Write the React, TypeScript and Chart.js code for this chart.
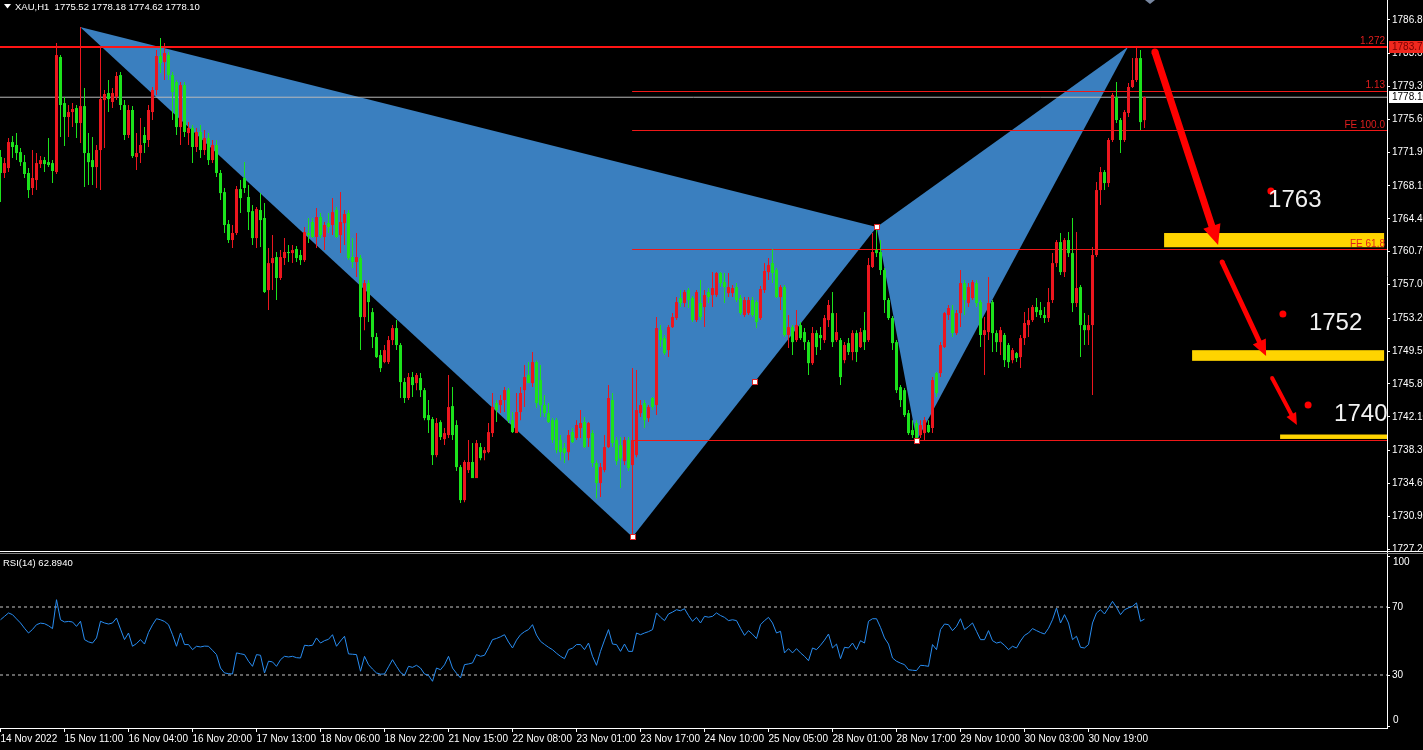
import React, { useEffect, useRef } from 'react';
import { Chart, registerables } from 'chart.js';

Chart.register(...registerables);

// ---------------- data ----------------
const timeLabels = ['14 Nov 2022', '15 Nov 11:00', '16 Nov 04:00', '16 Nov 20:00', '17 Nov 13:00', '18 Nov 06:00', '18 Nov 22:00', '21 Nov 15:00', '22 Nov 08:00', '23 Nov 01:00', '23 Nov 17:00', '24 Nov 10:00', '25 Nov 05:00', '28 Nov 01:00', '28 Nov 17:00', '29 Nov 10:00', '30 Nov 03:00', '30 Nov 19:00'];
const timeTickBars = [0, 16, 32, 48, 64, 80, 96, 112, 128, 144, 160, 176, 192, 208, 224, 240, 256, 272];
const priceTicks = [1786.8, 1783.0, 1779.3, 1775.6, 1771.9, 1768.1, 1764.4, 1760.7, 1757.0, 1753.2, 1749.5, 1745.8, 1742.1, 1738.3, 1734.6, 1730.9, 1727.2];
const rsiTicks = [0, 30, 70, 100];
const rsiLevels = [70, 30];

const openP = [
  1771.36, 1769.56, 1770.12, 1773.05, 1772.72, 1771.92, 1770.79, 1769.56, 1767.87, 1768.77,
  1770.57, 1771.02, 1770.79, 1770.68, 1769.67, 1782.63, 1777.44, 1775.87, 1776.43, 1776.88,
  1775.19, 1777.10, 1771.81, 1771.02, 1770.23, 1772.15, 1777.78, 1778.57, 1777.56, 1778.12,
  1780.60, 1777.22, 1773.84, 1776.66, 1771.36, 1771.81, 1773.84, 1773.28, 1776.43, 1778.91,
  1782.74, 1782.06, 1782.86, 1780.60, 1779.81, 1774.74, 1779.47, 1774.06, 1774.63, 1772.49,
  1774.18, 1772.15, 1773.50, 1771.02, 1772.72, 1769.56, 1767.41, 1763.81, 1762.01, 1762.80,
  1767.75, 1769.00, 1766.86, 1765.27, 1762.23, 1765.39, 1764.49, 1756.37, 1759.41, 1760.09,
  1757.73, 1759.98, 1760.66, 1760.54, 1761.00, 1760.32, 1759.75, 1762.80, 1764.04, 1762.35,
  1764.60, 1762.35, 1763.92, 1763.70, 1765.39, 1762.57, 1763.92, 1765.05, 1760.09, 1759.53,
  1759.98, 1753.33, 1757.16, 1753.89, 1751.08, 1749.05, 1748.26, 1748.26, 1750.74, 1752.09,
  1750.18, 1746.01, 1744.21, 1746.57, 1745.89, 1746.46, 1745.10, 1742.29, 1741.84, 1737.78,
  1741.50, 1739.58, 1740.04, 1743.30, 1741.17, 1736.43, 1732.71, 1736.09, 1737.00, 1735.19,
  1738.68, 1738.00, 1738.12, 1740.26, 1743.64, 1743.42, 1743.98, 1745.10, 1741.72, 1740.26,
  1742.63, 1745.10, 1746.80, 1745.89, 1748.26, 1746.23, 1743.42, 1742.51, 1741.72, 1741.72,
  1739.47, 1738.57, 1738.12, 1740.37, 1739.70, 1740.83, 1741.50, 1739.70, 1740.26, 1736.88,
  1734.63, 1736.09, 1738.68, 1743.98, 1739.47, 1738.90, 1737.10, 1739.47, 1736.66, 1737.78,
  1742.51, 1743.64, 1741.95, 1744.21, 1743.42, 1751.86, 1750.96, 1749.61, 1752.20, 1753.22,
  1755.47, 1754.91, 1756.37, 1755.47, 1752.99, 1754.91, 1754.46, 1756.15, 1755.81, 1755.81,
  1758.29, 1757.27, 1756.03, 1756.03, 1756.71, 1755.47, 1753.56, 1753.78, 1755.25, 1755.02,
  1753.22, 1756.37, 1758.40, 1759.41, 1758.63, 1755.58, 1756.71, 1751.31, 1752.20, 1750.74,
  1752.43, 1751.64, 1750.51, 1748.14, 1751.53, 1751.31, 1750.74, 1752.99, 1753.78, 1750.74,
  1750.74, 1748.48, 1750.40, 1749.39, 1751.53, 1749.95, 1751.86, 1750.74, 1758.97, 1760.88,
  1760.66, 1758.63, 1755.25, 1753.22, 1750.51, 1745.44, 1745.10, 1742.51, 1740.60, 1741.39,
  1740.04, 1740.26, 1741.17, 1740.83, 1747.02, 1747.02, 1749.95, 1753.56, 1754.12, 1751.53,
  1753.78, 1757.16, 1754.91, 1755.47, 1757.16, 1755.02, 1751.31, 1751.64, 1755.02, 1751.53,
  1750.51, 1751.31, 1750.18, 1748.48, 1749.27, 1748.82, 1750.96, 1752.43, 1752.99, 1754.46,
  1754.12, 1753.56, 1753.22, 1755.25, 1759.41, 1761.78, 1758.40, 1762.01, 1760.54, 1754.91,
  1756.71, 1752.43, 1751.86, 1752.43, 1760.32, 1767.64, 1769.67, 1768.43, 1773.28, 1778.12,
  1775.53, 1773.28, 1776.32, 1779.25, 1780.04, 1782.51, 1775.52,
];
const highP = [
  1772.15, 1771.25, 1773.50, 1773.72, 1774.06, 1772.38, 1771.59, 1770.12, 1772.15, 1771.81,
  1771.47, 1771.36, 1773.50, 1771.02, 1784.20, 1782.86, 1778.12, 1777.22, 1777.44, 1777.22,
  1786.01, 1779.13, 1774.06, 1773.62, 1772.72, 1783.87, 1778.91, 1780.04, 1779.13, 1780.94,
  1780.94, 1777.78, 1777.22, 1777.10, 1774.06, 1775.75, 1774.74, 1777.22, 1779.25, 1783.42,
  1784.77, 1784.20, 1783.19, 1780.94, 1780.04, 1779.81, 1779.81, 1775.30, 1774.97, 1774.63,
  1774.97, 1774.40, 1774.06, 1773.28, 1773.28, 1769.90, 1767.87, 1764.26, 1763.70, 1768.09,
  1768.77, 1770.79, 1768.21, 1765.95, 1765.73, 1767.30, 1766.18, 1761.11, 1762.57, 1760.66,
  1760.88, 1762.23, 1761.45, 1761.45, 1761.34, 1760.88, 1763.47, 1764.49, 1764.49, 1765.61,
  1765.05, 1764.04, 1765.05, 1766.74, 1765.73, 1767.41, 1765.39, 1765.39, 1762.23, 1762.80,
  1760.32, 1757.50, 1757.50, 1754.35, 1751.53, 1749.61, 1750.18, 1751.19, 1752.43, 1752.99,
  1750.40, 1746.46, 1747.02, 1747.13, 1747.02, 1747.02, 1745.33, 1743.98, 1742.07, 1741.95,
  1741.72, 1740.83, 1746.80, 1745.44, 1741.72, 1736.66, 1737.21, 1739.47, 1739.13, 1739.47,
  1739.13, 1738.68, 1741.39, 1744.77, 1743.98, 1744.55, 1745.44, 1745.33, 1742.63, 1744.77,
  1745.44, 1747.93, 1748.26, 1749.39, 1748.48, 1747.93, 1744.55, 1743.64, 1741.95, 1741.95,
  1740.04, 1739.13, 1740.60, 1740.83, 1741.72, 1742.85, 1742.07, 1741.50, 1740.60, 1737.21,
  1736.88, 1740.04, 1745.67, 1744.77, 1739.81, 1739.81, 1739.81, 1739.81, 1747.58, 1747.36,
  1743.98, 1743.98, 1743.42, 1744.32, 1753.33, 1752.43, 1751.31, 1752.43, 1753.78, 1755.58,
  1756.37, 1756.37, 1756.60, 1755.70, 1756.37, 1757.50, 1756.37, 1756.60, 1758.40, 1758.40,
  1758.40, 1758.29, 1758.29, 1756.94, 1757.16, 1755.81, 1755.58, 1755.58, 1755.58, 1755.25,
  1756.83, 1759.41, 1759.98, 1761.00, 1758.86, 1756.94, 1756.94, 1753.56, 1752.43, 1754.12,
  1752.77, 1752.09, 1750.74, 1752.20, 1751.86, 1752.20, 1753.56, 1755.25, 1756.15, 1753.78,
  1750.96, 1750.51, 1750.96, 1751.86, 1751.86, 1752.09, 1753.89, 1759.98, 1762.80, 1763.47,
  1762.01, 1758.86, 1755.47, 1753.44, 1750.74, 1745.67, 1745.33, 1742.85, 1741.72, 1741.72,
  1741.72, 1742.07, 1741.72, 1746.57, 1747.13, 1750.51, 1753.89, 1754.69, 1754.69, 1754.12,
  1758.63, 1757.50, 1757.16, 1757.50, 1757.50, 1755.25, 1753.33, 1757.84, 1755.25, 1751.86,
  1752.20, 1751.53, 1750.40, 1749.84, 1749.39, 1751.31, 1753.89, 1754.35, 1754.69, 1755.47,
  1755.02, 1754.46, 1756.60, 1760.54, 1762.01, 1762.80, 1762.23, 1762.91, 1764.49, 1762.91,
  1756.94, 1753.78, 1753.56, 1761.22, 1768.54, 1770.23, 1769.90, 1773.50, 1778.57, 1779.81,
  1775.75, 1776.66, 1779.70, 1782.51, 1783.64, 1783.42, 1778.18,
];
const lowP = [
  1766.29, 1769.00, 1769.67, 1771.25, 1771.02, 1770.34, 1769.00, 1766.74, 1767.08, 1767.64,
  1770.12, 1769.67, 1770.23, 1768.43, 1769.45, 1773.62, 1772.60, 1773.62, 1774.74, 1773.50,
  1772.94, 1767.98, 1768.21, 1768.21, 1767.87, 1767.64, 1772.38, 1776.43, 1776.88, 1777.78,
  1776.66, 1773.28, 1773.50, 1771.25, 1769.90, 1770.68, 1771.81, 1772.49, 1775.53, 1778.35,
  1780.82, 1780.04, 1780.04, 1775.53, 1773.84, 1772.72, 1773.62, 1772.72, 1770.68, 1771.92,
  1771.25, 1771.59, 1770.46, 1770.68, 1769.11, 1766.52, 1762.80, 1761.67, 1761.11, 1762.57,
  1765.05, 1767.30, 1763.14, 1761.45, 1761.11, 1761.22, 1756.03, 1754.12, 1756.37, 1755.25,
  1757.50, 1759.19, 1759.53, 1759.41, 1759.53, 1759.19, 1759.53, 1761.67, 1762.23, 1761.11,
  1762.23, 1760.88, 1762.80, 1762.57, 1762.23, 1760.54, 1761.45, 1759.75, 1758.86, 1757.84,
  1749.61, 1751.86, 1752.77, 1749.84, 1748.71, 1747.13, 1748.14, 1748.03, 1750.18, 1749.61,
  1744.21, 1743.64, 1743.98, 1744.32, 1745.10, 1744.32, 1741.72, 1740.26, 1736.66, 1737.55,
  1739.47, 1738.91, 1739.70, 1739.47, 1735.98, 1732.37, 1732.48, 1735.75, 1735.19, 1735.19,
  1737.21, 1737.21, 1738.00, 1739.81, 1741.50, 1742.51, 1742.63, 1741.39, 1740.26, 1740.26,
  1741.72, 1743.19, 1745.89, 1745.44, 1743.08, 1742.07, 1742.07, 1741.39, 1739.13, 1738.00,
  1737.21, 1736.88, 1737.21, 1739.13, 1739.47, 1739.70, 1738.57, 1738.68, 1736.43, 1732.93,
  1733.05, 1735.86, 1738.57, 1738.68, 1736.66, 1734.07, 1736.66, 1735.98, 1728.54, 1737.55,
  1742.07, 1740.83, 1741.50, 1742.85, 1742.29, 1749.95, 1749.05, 1748.82, 1752.09, 1752.99,
  1754.46, 1754.46, 1754.35, 1752.77, 1752.77, 1752.99, 1752.20, 1754.91, 1754.46, 1755.58,
  1756.71, 1754.91, 1755.58, 1755.58, 1755.02, 1753.56, 1753.33, 1753.56, 1753.33, 1752.09,
  1752.99, 1756.03, 1757.50, 1757.16, 1755.47, 1754.12, 1751.08, 1749.84, 1749.05, 1750.51,
  1750.74, 1749.61, 1746.80, 1747.93, 1749.05, 1749.61, 1750.40, 1752.20, 1749.95, 1750.51,
  1745.67, 1748.14, 1749.05, 1748.48, 1748.26, 1749.84, 1749.61, 1750.51, 1758.86, 1760.09,
  1758.07, 1753.78, 1752.99, 1749.61, 1744.77, 1743.19, 1742.07, 1740.04, 1739.70, 1739.36,
  1739.70, 1739.47, 1740.26, 1740.26, 1744.32, 1746.57, 1749.84, 1752.99, 1751.08, 1751.31,
  1752.20, 1753.56, 1754.46, 1755.25, 1754.46, 1749.95, 1746.80, 1750.74, 1749.39, 1749.39,
  1749.05, 1747.70, 1747.58, 1748.14, 1748.26, 1747.58, 1750.18, 1751.08, 1752.77, 1753.33,
  1753.22, 1752.66, 1752.77, 1754.91, 1758.97, 1758.07, 1757.84, 1760.09, 1753.89, 1754.46,
  1748.82, 1750.18, 1750.18, 1744.55, 1760.09, 1765.95, 1767.64, 1767.98, 1773.05, 1775.19,
  1771.81, 1773.05, 1775.87, 1779.13, 1779.81, 1774.40, 1774.62,
];
const closeP = [
  1769.56, 1770.68, 1773.05, 1772.49, 1771.81, 1770.79, 1769.45, 1767.64, 1769.00, 1770.68,
  1771.02, 1770.57, 1770.46, 1769.79, 1782.85, 1777.22, 1775.87, 1776.43, 1776.77, 1775.19,
  1777.10, 1771.81, 1770.79, 1770.23, 1772.15, 1777.89, 1778.46, 1777.89, 1778.57, 1780.49,
  1777.22, 1773.84, 1776.66, 1771.47, 1771.81, 1772.72, 1772.94, 1776.66, 1778.91, 1782.74,
  1781.95, 1783.08, 1780.60, 1778.68, 1774.74, 1779.47, 1774.18, 1774.63, 1772.49, 1774.18,
  1772.15, 1773.50, 1771.02, 1772.72, 1769.56, 1767.30, 1763.70, 1762.01, 1762.80, 1767.75,
  1766.74, 1767.87, 1765.16, 1762.23, 1765.50, 1764.26, 1756.15, 1759.41, 1759.98, 1757.73,
  1760.09, 1760.66, 1760.54, 1760.88, 1759.98, 1759.75, 1762.91, 1762.57, 1762.35, 1764.60,
  1762.57, 1763.70, 1763.47, 1765.16, 1762.35, 1764.04, 1764.94, 1759.98, 1759.53, 1760.09,
  1753.33, 1757.16, 1755.02, 1751.08, 1748.82, 1747.58, 1749.61, 1750.74, 1752.09, 1750.18,
  1746.01, 1744.21, 1746.57, 1745.67, 1746.80, 1745.10, 1741.95, 1741.72, 1737.78, 1741.39,
  1739.81, 1740.26, 1743.19, 1740.04, 1736.43, 1732.71, 1737.00, 1737.00, 1735.19, 1739.13,
  1737.44, 1738.34, 1740.37, 1743.19, 1742.85, 1743.98, 1745.10, 1741.72, 1740.37, 1742.63,
  1744.77, 1746.57, 1745.89, 1748.26, 1743.64, 1743.42, 1742.51, 1741.50, 1739.47, 1738.34,
  1738.12, 1738.00, 1740.04, 1739.24, 1741.17, 1741.39, 1738.68, 1741.39, 1736.88, 1734.63,
  1736.43, 1738.68, 1744.21, 1739.13, 1737.10, 1737.40, 1739.47, 1736.32, 1739.47, 1742.85,
  1743.42, 1741.72, 1743.19, 1743.19, 1752.09, 1750.74, 1749.27, 1752.20, 1753.33, 1755.02,
  1754.91, 1756.15, 1755.25, 1752.99, 1756.15, 1753.33, 1755.81, 1755.58, 1756.60, 1758.29,
  1757.16, 1756.71, 1756.71, 1756.60, 1755.25, 1753.78, 1755.25, 1755.25, 1753.56, 1752.77,
  1756.49, 1758.52, 1759.19, 1758.29, 1755.58, 1756.71, 1751.31, 1752.20, 1750.51, 1752.43,
  1750.96, 1750.51, 1748.14, 1751.53, 1749.95, 1750.96, 1753.22, 1754.69, 1750.51, 1751.64,
  1746.57, 1750.18, 1749.39, 1751.53, 1749.39, 1751.64, 1750.51, 1759.19, 1760.66, 1760.54,
  1758.63, 1755.25, 1753.22, 1750.40, 1745.10, 1743.98, 1742.29, 1740.26, 1740.04, 1739.70,
  1741.17, 1741.72, 1740.37, 1746.23, 1744.77, 1750.18, 1753.78, 1754.35, 1751.53, 1753.78,
  1757.16, 1755.25, 1756.71, 1757.27, 1754.91, 1751.31, 1751.86, 1754.91, 1751.53, 1750.51,
  1751.86, 1748.48, 1748.26, 1749.61, 1748.71, 1750.96, 1752.66, 1752.99, 1754.46, 1753.89,
  1753.56, 1753.22, 1755.02, 1759.41, 1761.78, 1758.40, 1762.01, 1760.54, 1754.91, 1756.60,
  1752.43, 1751.86, 1752.43, 1760.32, 1767.64, 1769.67, 1768.43, 1773.28, 1778.35, 1775.53,
  1773.28, 1776.43, 1779.25, 1780.04, 1782.51, 1775.30, 1778.10,
];
const rsi14 = [
  62.5, 64.5, 66.5, 65.5, 63.0, 60.6, 57.5, 54.7, 56.8, 59.6,
  60.5, 60.2, 59.0, 57.3, 74.3, 62.5, 61.2, 61.5, 61.2, 58.6,
  61.6, 50.8, 49.5, 48.8, 51.8, 61.6, 60.6, 60.0, 60.6, 63.5,
  57.0, 50.8, 54.7, 46.9, 48.5, 50.8, 48.2, 55.0, 59.5, 63.1,
  62.5, 61.5, 59.6, 53.7, 46.9, 54.7, 47.9, 47.9, 44.9, 46.9,
  46.5, 47.0, 46.9, 44.5, 42.0, 34.1, 31.2, 30.8, 30.6, 43.0,
  42.5, 42.0, 38.1, 35.1, 42.0, 41.6, 31.2, 38.1, 37.7, 35.1,
  39.0, 41.0, 40.6, 41.0, 40.2, 40.0, 47.5, 47.2, 47.5, 51.8,
  48.8, 50.2, 51.0, 53.7, 46.9, 50.0, 52.8, 42.4, 42.2, 42.0,
  32.2, 41.0, 36.1, 33.5, 31.2, 30.5, 30.6, 34.8, 39.0, 35.1,
  31.5, 29.8, 35.1, 34.5, 35.7, 34.1, 30.6, 29.8, 26.3, 34.1,
  33.1, 36.0, 41.0, 34.1, 31.0, 28.3, 36.1, 36.5, 37.1, 42.0,
  41.0, 41.6, 46.0, 50.8, 51.5, 52.5, 53.7, 49.4, 45.9, 50.5,
  53.7, 55.5, 56.7, 59.6, 53.5, 49.8, 48.0, 46.3, 44.9, 42.8,
  41.0, 39.6, 44.9, 45.8, 47.9, 47.9, 44.9, 48.8, 41.0, 35.7,
  43.9, 50.5, 56.7, 48.2, 47.9, 43.9, 48.2, 43.9, 43.9, 54.7,
  53.7, 54.7, 55.5, 56.7, 66.5, 64.0, 62.0, 65.9, 67.0, 68.4,
  67.8, 69.0, 65.0, 61.6, 63.9, 60.6, 64.5, 64.0, 64.5, 66.5,
  65.0, 63.9, 62.0, 62.5, 62.0, 57.5, 53.3, 56.1, 54.0, 51.4,
  59.6, 62.0, 63.9, 60.6, 54.7, 55.7, 43.0, 45.5, 43.0, 45.5,
  43.0, 41.0, 38.4, 45.9, 44.9, 47.5, 50.5, 54.1, 45.9, 48.2,
  39.6, 46.3, 45.9, 48.8, 44.9, 50.2, 48.8, 61.6, 63.1, 63.1,
  58.0, 51.8, 48.2, 40.0, 38.1, 37.0, 36.1, 33.1, 32.8, 32.6,
  35.7, 35.5, 35.1, 47.9, 44.9, 56.7, 60.0, 59.6, 56.1, 58.6,
  63.1, 56.7, 58.5, 60.6, 55.7, 50.8, 50.8, 56.1, 50.2, 48.8,
  49.4, 47.5, 44.9, 46.9, 45.9, 50.0, 53.3, 54.7, 57.3, 56.1,
  55.0, 54.1, 57.5, 62.5, 69.4, 60.6, 65.5, 60.6, 50.8, 52.8,
  46.3, 45.9, 47.9, 60.6, 66.5, 68.4, 65.9, 69.5, 73.3, 69.8,
  65.5, 68.4, 69.5, 70.4, 72.4, 61.6, 62.89,
];

// harmonic pattern X, A, B, C, D (bar index, price)
const patternBars = [19.9, 158, 219.05, 229.05, 281.9];
const patternPrices = [1786.01, 1728.55, 1763.48, 1739.4, 1783.79];

// fibo / projection levels
const levelLabels = ['1.272', '1.13', 'FE 100.0', 'FE 61.8', ''];
const levelPrices = [1783.76, 1778.745, 1774.35, 1760.943, 1739.425];
const levelFromBar = [-0.125, 157.9, 157.9, 157.9, 157.9];
const levelTag = '1783.79';
const bidPrice = 1778.1;
const bidTag = '1778.10';

// targets drawn on the right
const targetLabels = ['1763', '1752', '1740'];
const zoneFromBar = [290.9, 297.9, 319.9];
const zoneToBar = [345.9, 345.9, 346.7];
const zoneTop = [1762.8, 1749.6, 1740.1];
const zoneBottom = [1761.2, 1748.4, 1739.6];
const arrowFromBar = [288.6, 305.4, 317.9];
const arrowFromPrice = [1783.2, 1759.54, 1746.47];
const arrowToBar = [304.4, 316.4, 324.1];
const arrowToPrice = [1761.45, 1748.95, 1741.17];
const dotBar = [317.6, 320.6, 326.9];
const dotPrice = [1767.54, 1753.68, 1743.42];
const textBar = [316.9, 327.1, 333.4];
const textPrice = [1766.52, 1752.66, 1742.41];

const headerText = 'XAU,H1  1775.52 1778.18 1774.62 1778.10';
const rsiText = 'RSI(14) 62.8940';

// ---------------- styles ----------------
const W = 1423;
const H = 750;
const AXIS_W = 36;
const TIME_H = 22;
const MAIN_H = 552;
const RSI_H = 176;
const BAR_PX = 4;
const X_MIN = -0.125;
const X_MAX = X_MIN + (W - AXIS_W) / BAR_PX;
const Y_MIN = 1726.863;
const Y_MAX = 1789.053;
const R_MIN = -1.176;
const R_MAX = 102.353;
const UP = 'rgb(236,22,30)';
const DOWN = 'rgb(28,226,28)';
const BLUE = 'rgb(58,127,191)';
const LEVEL_RED = 'rgb(240,24,24)';
const FONT = "'Liberation Sans', Arial, sans-serif";

const overlayPlugin = {
  id: 'mt4overlay',
  beforeDatasetsDraw(chart: any) {
    const { ctx } = chart;
    const x = chart.scales.x;
    const y = chart.scales.y;
    ctx.save();
    ctx.beginPath();
    ctx.rect(0, 0, x.right, y.bottom);
    ctx.clip();
    ctx.fillStyle = BLUE;
    const tri = (a: number, b: number, c: number) => {
      ctx.beginPath();
      ctx.moveTo(x.getPixelForValue(patternBars[a]), y.getPixelForValue(patternPrices[a]));
      ctx.lineTo(x.getPixelForValue(patternBars[b]), y.getPixelForValue(patternPrices[b]));
      ctx.lineTo(x.getPixelForValue(patternBars[c]), y.getPixelForValue(patternPrices[c]));
      ctx.closePath();
      ctx.fill();
    };
    tri(0, 1, 2);
    tri(2, 3, 4);
    ctx.restore();
  },
  afterDatasetsDraw(chart: any) {
    const { ctx } = chart;
    const x = chart.scales.x;
    const y = chart.scales.y;
    ctx.save();
    ctx.beginPath();
    ctx.rect(0, 0, x.right, y.bottom);
    ctx.clip();

    // pattern markers
    const marker = (px: number, py: number) => {
      ctx.fillStyle = '#ffffff';
      ctx.fillRect(Math.round(px) - 2, Math.round(py) - 2, 4, 4);
      ctx.strokeStyle = 'rgb(220,40,40)';
      ctx.lineWidth = 1;
      ctx.strokeRect(Math.round(px) - 2.5, Math.round(py) - 2.5, 5, 5);
    };
    for (const k of [1, 2, 3]) {
      marker(x.getPixelForValue(patternBars[k]), y.getPixelForValue(patternPrices[k]));
    }
    marker(
      x.getPixelForValue((patternBars[1] + patternBars[2]) / 2),
      y.getPixelForValue((patternPrices[1] + patternPrices[2]) / 2)
    );

    // yellow target zones
    ctx.fillStyle = 'rgb(255,212,0)';
    for (let i = 0; i < zoneTop.length; i++) {
      const x0 = x.getPixelForValue(zoneFromBar[i]);
      const x1 = x.getPixelForValue(zoneToBar[i]);
      const y0 = y.getPixelForValue(zoneTop[i]);
      const y1 = y.getPixelForValue(zoneBottom[i]);
      ctx.fillRect(x0, y0, x1 - x0, y1 - y0);
    }

    // level labels
    ctx.font = `10px ${FONT}`;
    ctx.textAlign = 'right';
    ctx.textBaseline = 'alphabetic';
    ctx.fillStyle = 'rgb(225,30,30)';
    for (let i = 0; i < levelLabels.length; i++) {
      if (!levelLabels[i]) continue;
      ctx.fillText(levelLabels[i], x.right - 2, y.getPixelForValue(levelPrices[i]) - 3);
    }

    // arrows
    ctx.fillStyle = 'rgb(255,0,0)';
    const shafts = [7, 5, 4];
    const heads = [20, 16, 12];
    for (let i = 0; i < arrowFromBar.length; i++) {
      const x1 = x.getPixelForValue(arrowFromBar[i]);
      const y1 = y.getPixelForValue(arrowFromPrice[i]);
      const x2 = x.getPixelForValue(arrowToBar[i]);
      const y2 = y.getPixelForValue(arrowToPrice[i]);
      const dx = x2 - x1;
      const dy = y2 - y1;
      const len = Math.hypot(dx, dy);
      const ux = dx / len;
      const uy = dy / len;
      const nx = -uy;
      const ny = ux;
      const sw = shafts[i] / 2;
      const hl = heads[i];
      const hw = heads[i] * 0.45;
      const bx = x2 - ux * hl;
      const by = y2 - uy * hl;
      ctx.beginPath();
      ctx.moveTo(x1 + nx * sw, y1 + ny * sw);
      ctx.lineTo(bx + nx * sw, by + ny * sw);
      ctx.lineTo(bx + nx * hw, by + ny * hw);
      ctx.lineTo(x2, y2);
      ctx.lineTo(bx - nx * hw, by - ny * hw);
      ctx.lineTo(bx - nx * sw, by - ny * sw);
      ctx.lineTo(x1 - nx * sw, y1 - ny * sw);
      ctx.closePath();
      ctx.fill();
      ctx.beginPath();
      ctx.arc(x1, y1, sw, 0, Math.PI * 2);
      ctx.fill();
    }

    // dots
    for (let i = 0; i < dotBar.length; i++) {
      ctx.beginPath();
      ctx.arc(x.getPixelForValue(dotBar[i]), y.getPixelForValue(dotPrice[i]), 3.5, 0, Math.PI * 2);
      ctx.fill();
    }

    // target numbers
    ctx.font = `24px ${FONT}`;
    ctx.textAlign = 'left';
    ctx.textBaseline = 'middle';
    ctx.fillStyle = '#f2f2f2';
    for (let i = 0; i < targetLabels.length; i++) {
      ctx.fillText(targetLabels[i], x.getPixelForValue(textBar[i]), y.getPixelForValue(textPrice[i]));
    }
    ctx.restore();
  },
  afterDraw(chart: any) {
    const { ctx } = chart;
    const y = chart.scales.y;
    const yr = chart.scales.yr;
    const x = chart.scales.x;
    ctx.save();
    // panel separator
    ctx.fillStyle = '#ffffff';
    ctx.fillRect(0, MAIN_H - 1, W, 1);
    ctx.fillStyle = '#808080';
    ctx.fillRect(0, MAIN_H + 1, W, 1);

    // price tags on the axis
    const tag = (price: number, text: string, bg: string, fg: string) => {
      const py = Math.round(y.getPixelForValue(price));
      ctx.fillStyle = bg;
      ctx.fillRect(x.right + 2, py - 6, AXIS_W, 12);
      ctx.fillStyle = fg;
      ctx.font = `10px ${FONT}`;
      ctx.textAlign = 'left';
      ctx.textBaseline = 'middle';
      ctx.fillText(text, x.right + 5, py + 0.5);
    };
    tag(levelPrices[0], levelTag, 'rgb(240,40,30)', 'rgb(120,0,0)');
    tag(bidPrice, bidTag, '#ffffff', '#000000');

    // RSI scale end labels kept inside the pane
    ctx.fillStyle = '#ffffff';
    ctx.font = `10px ${FONT}`;
    ctx.textAlign = 'left';
    ctx.textBaseline = 'top';
    ctx.fillText(String(rsiTicks[3]), x.right + 6, yr.getPixelForValue(rsiTicks[3]) + 1);
    ctx.textBaseline = 'bottom';
    ctx.fillText(String(rsiTicks[0]), x.right + 6, yr.getPixelForValue(rsiTicks[0]) - 1);

    // header
    ctx.beginPath();
    ctx.moveTo(4, 4);
    ctx.lineTo(11, 4);
    ctx.lineTo(7.5, 8.5);
    ctx.closePath();
    ctx.fill();
    ctx.font = `9.5px ${FONT}`;
    ctx.textAlign = 'left';
    ctx.textBaseline = 'middle';
    ctx.fillText(headerText, 15, 7);
    ctx.fillText(rsiText, 3, 563);

    // chart shift marker
    ctx.fillStyle = 'rgb(120,135,160)';
    ctx.beginPath();
    ctx.moveTo(1145, 0);
    ctx.lineTo(1155, 0);
    ctx.lineTo(1150, 4);
    ctx.closePath();
    ctx.fill();
    ctx.restore();
  },
};

export default function App() {
  const ref = useRef<HTMLCanvasElement | null>(null);

  useEffect(() => {
    const body = document.body;
    body.style.margin = '0';
    body.style.background = '#000';
    const canvas = ref.current;
    if (!canvas) return;

    const idx = openP.map((_, i) => i);
    const colors = idx.map((i) => (closeP[i] >= openP[i] ? UP : DOWN));
    const wicks = idx.map((i) => ({ x: i, y: [lowP[i], highP[i]] }));
    const bodies = idx.map((i) => ({ x: i, y: [openP[i], closeP[i]] }));
    const rsiPts = idx.map((i) => ({ x: i, y: rsi14[i] }));

    const levelSets = levelPrices.map((p, i) => ({
      type: 'line' as const,
      data: [
        { x: levelFromBar[i], y: p },
        { x: X_MAX, y: p },
      ],
      yAxisID: 'y',
      borderColor: i === 0 ? 'rgb(255,20,20)' : LEVEL_RED,
      borderWidth: i === 0 ? 2 : 1.2,
      pointRadius: 0,
      order: 5,
    }));

    const chart = new Chart(canvas, {
      data: {
        datasets: [
          {
            type: 'bar',
            data: wicks as any,
            yAxisID: 'y',
            backgroundColor: colors,
            barThickness: 1,
            grouped: false,
            inflateAmount: 0,
            minBarLength: 1,
            order: 2,
          } as any,
          {
            type: 'bar',
            data: bodies as any,
            yAxisID: 'y',
            backgroundColor: colors,
            barThickness: 3,
            grouped: false,
            inflateAmount: 0,
            minBarLength: 1,
            order: 1,
          } as any,
          ...levelSets,
          {
            type: 'line',
            data: [
              { x: X_MIN, y: bidPrice },
              { x: X_MAX, y: bidPrice },
            ],
            yAxisID: 'y',
            borderColor: 'rgb(185,185,185)',
            borderWidth: 1,
            pointRadius: 0,
            order: 6,
          },
          ...rsiLevels.map((v) => ({
            type: 'line' as const,
            data: [
              { x: X_MIN, y: v },
              { x: X_MAX, y: v },
            ],
            yAxisID: 'yr',
            borderColor: 'rgb(200,200,200)',
            borderWidth: 1,
            borderDash: [3, 3],
            pointRadius: 0,
            order: 7,
          })),
          {
            type: 'line',
            data: rsiPts,
            yAxisID: 'yr',
            borderColor: 'rgb(40,140,240)',
            borderWidth: 1,
            pointRadius: 0,
            tension: 0,
            order: 0,
          },
        ] as any,
      },
      options: {
        animation: false,
        responsive: false,
        devicePixelRatio: 1,
        events: [],
        layout: { padding: 0 },
        plugins: { legend: { display: false }, tooltip: { enabled: false } },
        scales: {
          x: {
            type: 'linear',
            position: 'bottom',
            min: X_MIN,
            max: X_MAX,
            offset: false,
            bounds: 'data',
            afterDataLimits: (s: any) => {
              s.min = X_MIN;
              s.max = X_MAX;
            },
            afterBuildTicks: (s: any) => {
              s.ticks = timeTickBars.map((v) => ({ value: v }));
            },
            afterFit: (s: any) => {
              s.height = TIME_H;
              s.paddingLeft = 0;
              s.paddingRight = 0;
            },
            grid: { offset: false, drawOnChartArea: false, drawTicks: true, tickLength: 4, color: '#ffffff' },
            border: { display: true, color: '#ffffff' },
            ticks: {
              color: '#ffffff',
              font: { family: FONT, size: 10 },
              align: 'start',
              padding: 1,
              maxRotation: 0,
              autoSkip: false,
              callback: (_v: any, i: number) => timeLabels[i],
            },
          },
          y: {
            type: 'linear',
            position: 'right',
            stack: 'panes',
            stackWeight: MAIN_H,
            weight: 0,
            min: Y_MIN,
            max: Y_MAX,
            bounds: 'data',
            afterDataLimits: (s: any) => {
              s.min = Y_MIN;
              s.max = Y_MAX;
            },
            afterBuildTicks: (s: any) => {
              s.ticks = priceTicks.map((v) => ({ value: v }));
            },
            afterFit: (s: any) => {
              s.width = AXIS_W;
              s.paddingTop = 0;
              s.paddingBottom = 0;
            },
            grid: { drawOnChartArea: false, drawTicks: true, tickLength: 3, color: '#ffffff' },
            border: { display: true, color: '#ffffff' },
            ticks: {
              color: '#ffffff',
              font: { family: FONT, size: 10 },
              padding: 2,
              autoSkip: false,
              callback: (v: any) => Number(v).toFixed(2),
            },
          },
          yr: {
            type: 'linear',
            position: 'right',
            stack: 'panes',
            stackWeight: RSI_H,
            weight: 1,
            min: R_MIN,
            max: R_MAX,
            bounds: 'data',
            afterDataLimits: (s: any) => {
              s.min = R_MIN;
              s.max = R_MAX;
            },
            afterBuildTicks: (s: any) => {
              s.ticks = rsiTicks.map((v) => ({ value: v }));
            },
            afterFit: (s: any) => {
              s.width = AXIS_W;
              s.paddingTop = 0;
              s.paddingBottom = 0;
            },
            grid: { drawOnChartArea: false, drawTicks: true, tickLength: 3, color: '#ffffff' },
            border: { display: true, color: '#ffffff' },
            ticks: {
              color: '#ffffff',
              font: { family: FONT, size: 10 },
              padding: 2,
              autoSkip: false,
              callback: (v: any) => {
                const n = Math.round(Number(v));
                return n === 0 || n === 100 ? '' : String(n);
              },
            },
          },
        },
      } as any,
      plugins: [overlayPlugin],
    });

    return () => {
      chart.destroy();
    };
  }, []);

  return (
    <div style={{ position: 'fixed', left: 0, top: 0, width: W, height: H, background: '#000' }}>
      <canvas ref={ref} width={W} height={H} style={{ width: W, height: H, display: 'block' }} />
    </div>
  );
}
